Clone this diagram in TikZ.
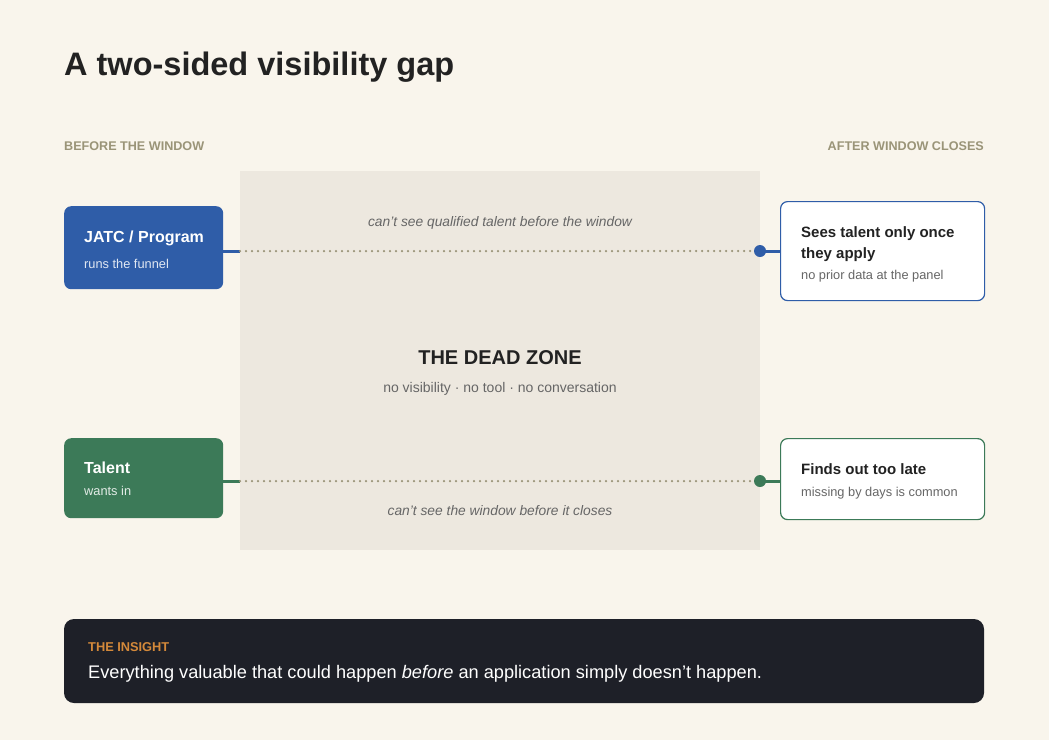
\documentclass[tikz,border=0pt]{standalone}
\usepackage{fontspec}
\setmainfont{Liberation Sans}
\definecolor{bg}{HTML}{F9F5EC}
\definecolor{zone}{HTML}{EDE8DF}
\definecolor{blu}{HTML}{2F5DA8}
\definecolor{grn}{HTML}{3C7A58}
\definecolor{olive}{HTML}{9A9478}
\definecolor{ink}{HTML}{222222}
\definecolor{mute}{HTML}{666666}
\definecolor{dark}{HTML}{1E2028}
\definecolor{orng}{HTML}{D4893A}
\begin{document}
\begin{tikzpicture}[x=1pt,y=-1pt,
  fs/.style={font=\fontsize{#1}{#1}\selectfont},
  lbl/.style={anchor=base west,inner sep=0},
  src/.style={rounded corners=7,draw=none},
  tgt/.style={rounded corners=7,fill=white,line width=1.2},
  dots/.style={olive,line width=2.5,line cap=round,dash pattern=on 0pt off 6pt},
  tip/.style={circle,inner sep=0,minimum size=12}]
\fill[bg] (0,0) rectangle (1049,740);
\useasboundingbox (0,0) rectangle (1049,740);
\node[lbl,fs=32.5,text=ink] (title) at (64,75) {\bfseries A two-sided visibility gap};
\node[lbl,fs=12.6,text=olive] (before) at (64,150) {\bfseries BEFORE THE WINDOW};
\node[anchor=base east,inner sep=0,fs=12.6,text=olive] (after) at (984,150) {\bfseries AFTER WINDOW CLOSES};
\fill[zone] (240,171) rectangle (760,550);
\node[fs=20,text=ink] (dz) at (500,358) {\bfseries THE DEAD ZONE};
\node[fs=14,text=mute] (dzs) at (500,389) {no visibility · no tool · no conversation};
% sources
\node[src,fill=blu,minimum width=159,minimum height=83,anchor=north west] (jatc) at (64,206) {};
\node[lbl,fs=16,text=white] at (84,242) {\bfseries JATC / Program};
\node[lbl,fs=12.8,text=white!85!blu] at (84,268) {runs the funnel};
\node[src,fill=grn,minimum width=159,minimum height=80,anchor=north west] (tal) at (64,438) {};
\node[lbl,fs=16,text=white] at (84,473) {\bfseries Talent};
\node[lbl,fs=12.8,text=white!85!grn] at (84,495) {wants in};
% targets
\node[tgt,draw=blu,minimum width=204,minimum height=99,anchor=north west] (see) at (780,201) {};
\node[lbl,fs=15,text=ink] at (801,237) {\bfseries Sees talent only once};
\node[lbl,fs=15,text=ink] at (801,258) {\bfseries they apply};
\node[lbl,fs=12.8,text=mute] at (801,279) {no prior data at the panel};
\node[tgt,draw=grn,minimum width=204,minimum height=81,anchor=north west] (late) at (780,438) {};
\node[lbl,fs=15,text=ink] at (801,474) {\bfseries Finds out too late};
\node[lbl,fs=12.8,text=mute] at (801,496) {missing by days is common};
% connectors
\coordinate (b1) at (240,251); \coordinate (b2) at (760,251);
\coordinate (g1) at (240,481); \coordinate (g2) at (760,481);
\draw[blu,line width=3] (jatc.east|-b1) -- (b1);
\draw[dots] (b1) -- (b2);
\draw[blu,line width=3] (b2) -- (see.west|-b2);
\node[tip,fill=blu] (bd) at (b2) {};
\draw[grn,line width=3] (tal.east|-g1) -- (g1);
\draw[dots] (g1) -- (g2);
\draw[grn,line width=3] (g2) -- (late.west|-g2);
\node[tip,fill=grn] (gd) at (g2) {};
\node[fs=13.8,text=mute] (l1) at (500,223) {\itshape can't see qualified talent before the window};
\node[fs=13.8,text=mute] (l2) at (500,511) {\itshape can't see the window before it closes};
% insight
\fill[dark,rounded corners=10] (64,619) rectangle (984,703);
\node[lbl,fs=12.8,text=orng] (ins) at (88,651) {\bfseries THE INSIGHT};
\node[lbl,fs=18.2,text=white] (inst) at (88,678) {Everything valuable that could happen \textit{before} an application simply doesn't happen.};
\end{tikzpicture}
\end{document}
